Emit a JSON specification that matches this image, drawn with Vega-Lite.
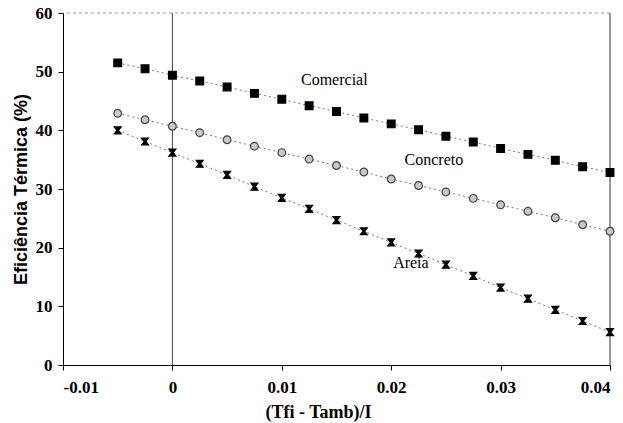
{
  "$schema": "https://vega.github.io/schema/vega-lite/v6.json",
  "width": 547,
  "height": 352,
  "autosize": "none",
  "padding": {"left": 63, "top": 13, "right": 13, "bottom": 58},
  "background": "white",
  "config": {
    "view": {"stroke": null},
    "axis": {
      "grid": false,
      "domainColor": "#000",
      "tickColor": "#000",
      "labelColor": "#000",
      "titleColor": "#000",
      "labelFont": "Liberation Serif",
      "labelFontWeight": "bold",
      "labelFontSize": 17,
      "tickSize": 5
    }
  },
  "datasets": {
    "one": [{}],
    "pts": [
      {"x": -0.005, "Comercial": 51.5, "Concreto": 42.9, "Areia": 40.0},
      {"x": -0.0025, "Comercial": 50.5, "Concreto": 41.8, "Areia": 38.1},
      {"x": 0, "Comercial": 49.4, "Concreto": 40.7, "Areia": 36.2},
      {"x": 0.0025, "Comercial": 48.4, "Concreto": 39.6, "Areia": 34.3},
      {"x": 0.005, "Comercial": 47.4, "Concreto": 38.4, "Areia": 32.4},
      {"x": 0.0075, "Comercial": 46.3, "Concreto": 37.3, "Areia": 30.4},
      {"x": 0.01, "Comercial": 45.3, "Concreto": 36.2, "Areia": 28.5},
      {"x": 0.0125, "Comercial": 44.2, "Concreto": 35.1, "Areia": 26.6},
      {"x": 0.015, "Comercial": 43.2, "Concreto": 34.0, "Areia": 24.7},
      {"x": 0.0175, "Comercial": 42.1, "Concreto": 32.9, "Areia": 22.8},
      {"x": 0.02, "Comercial": 41.1, "Concreto": 31.7, "Areia": 20.9},
      {"x": 0.0225, "Comercial": 40.1, "Concreto": 30.6, "Areia": 19.0},
      {"x": 0.025, "Comercial": 39.0, "Concreto": 29.5, "Areia": 17.1},
      {"x": 0.0275, "Comercial": 38.0, "Concreto": 28.4, "Areia": 15.2},
      {"x": 0.03, "Comercial": 36.9, "Concreto": 27.3, "Areia": 13.2},
      {"x": 0.0325, "Comercial": 35.9, "Concreto": 26.2, "Areia": 11.3},
      {"x": 0.035, "Comercial": 34.9, "Concreto": 25.1, "Areia": 9.4},
      {"x": 0.0375, "Comercial": 33.8, "Concreto": 23.9, "Areia": 7.5},
      {"x": 0.04, "Comercial": 32.8, "Concreto": 22.8, "Areia": 5.6}
    ],
    "labels": [
      {"x": 0.0148, "y": 48.6, "label": "Comercial"},
      {"x": 0.0239, "y": 34.9, "label": "Concreto"},
      {"x": 0.0218, "y": 17.4, "label": "Areia"}
    ]
  },
  "layer": [
    {
      "data": {"name": "one"},
      "mark": {"type": "rule", "color": "#444", "strokeWidth": 1},
      "encoding": {
        "x": {
          "datum": 0,
          "type": "quantitative",
          "scale": {"domain": [-0.01, 0.04], "nice": false, "zero": false},
          "axis": {
            "values": [-0.01, 0, 0.01, 0.02, 0.03, 0.04],
            "labelExpr": "datum.value < 0 ? '-' + format(-datum.value, '.2~f') : format(datum.value, '.2~f')",
            "labelFont": "Liberation Serif",
            "labelFontWeight": "bold",
            "labelFontSize": 17,
            "labelPadding": 9,
            "title": "(Tfi - Tamb)/I",
            "titleFont": "Liberation Serif",
            "titleFontWeight": "bold",
            "titleFontSize": 18,
            "titleX": 255,
            "titleY": 52,
            "titleBaseline": "alphabetic"
          }
        },
        "y": {
          "datum": 0,
          "type": "quantitative",
          "scale": {"domain": [0, 60], "nice": false},
          "axis": {
            "values": [0, 10, 20, 30, 40, 50, 60],
            "labelFont": "Liberation Serif",
            "labelFontWeight": "bold",
            "labelFontSize": 17,
            "labelPadding": 6,
            "title": "Eficiência Térmica (%)",
            "titleFont": "Liberation Sans",
            "titleFontWeight": "bold",
            "titleFontSize": 18,
            "titlePadding": 5
          }
        },
        "y2": {"datum": 60}
      }
    },
    {
      "data": {"name": "one"},
      "mark": {"type": "rule", "color": "#333", "strokeWidth": 1},
      "encoding": {"x": {"datum": 0.04, "type": "quantitative"}}
    },
    {
      "data": {"name": "one"},
      "mark": {"type": "rule", "color": "#999", "strokeWidth": 1, "strokeDash": [3, 3]},
      "encoding": {"y": {"datum": 60, "type": "quantitative"}}
    },
    {
      "data": {"name": "pts"},
      "transform": [{"fold": ["Comercial", "Concreto", "Areia"], "as": ["serie", "y"]}],
      "mark": {"type": "line", "color": "#777", "strokeWidth": 1, "strokeDash": [2, 3]},
      "encoding": {
        "x": {"field": "x", "type": "quantitative"},
        "y": {"field": "y", "type": "quantitative"},
        "detail": {"field": "serie"}
      }
    },
    {
      "data": {"name": "pts"},
      "transform": [{"fold": ["Comercial", "Concreto", "Areia"], "as": ["serie", "y"]}],
      "mark": {"type": "point", "filled": true, "opacity": 1, "strokeWidth": 1.2},
      "encoding": {
        "x": {"field": "x", "type": "quantitative"},
        "y": {"field": "y", "type": "quantitative"},
        "shape": {
          "field": "serie",
          "scale": {
            "domain": ["Comercial", "Concreto", "Areia"],
            "range": ["square", "circle", "M-0.9,-0.9L0.9,-0.9L0.2,0L0.9,0.9L-0.9,0.9L-0.2,0Z"]
          },
          "legend": null
        },
        "fill": {
          "field": "serie",
          "scale": {"domain": ["Comercial", "Concreto", "Areia"], "range": ["#000", "#c8c8c8", "#000"]},
          "legend": null
        },
        "stroke": {
          "field": "serie",
          "scale": {"domain": ["Comercial", "Concreto", "Areia"], "range": ["#000", "#444", "#000"]},
          "legend": null
        },
        "size": {
          "field": "serie",
          "scale": {"domain": ["Comercial", "Concreto", "Areia"], "range": [60, 60, 50]},
          "legend": null
        }
      }
    },
    {
      "data": {"name": "labels"},
      "mark": {"type": "text", "font": "Liberation Serif", "fontSize": 16, "color": "#000"},
      "encoding": {
        "x": {"field": "x", "type": "quantitative"},
        "y": {"field": "y", "type": "quantitative"},
        "text": {"field": "label"}
      }
    }
  ]
}
